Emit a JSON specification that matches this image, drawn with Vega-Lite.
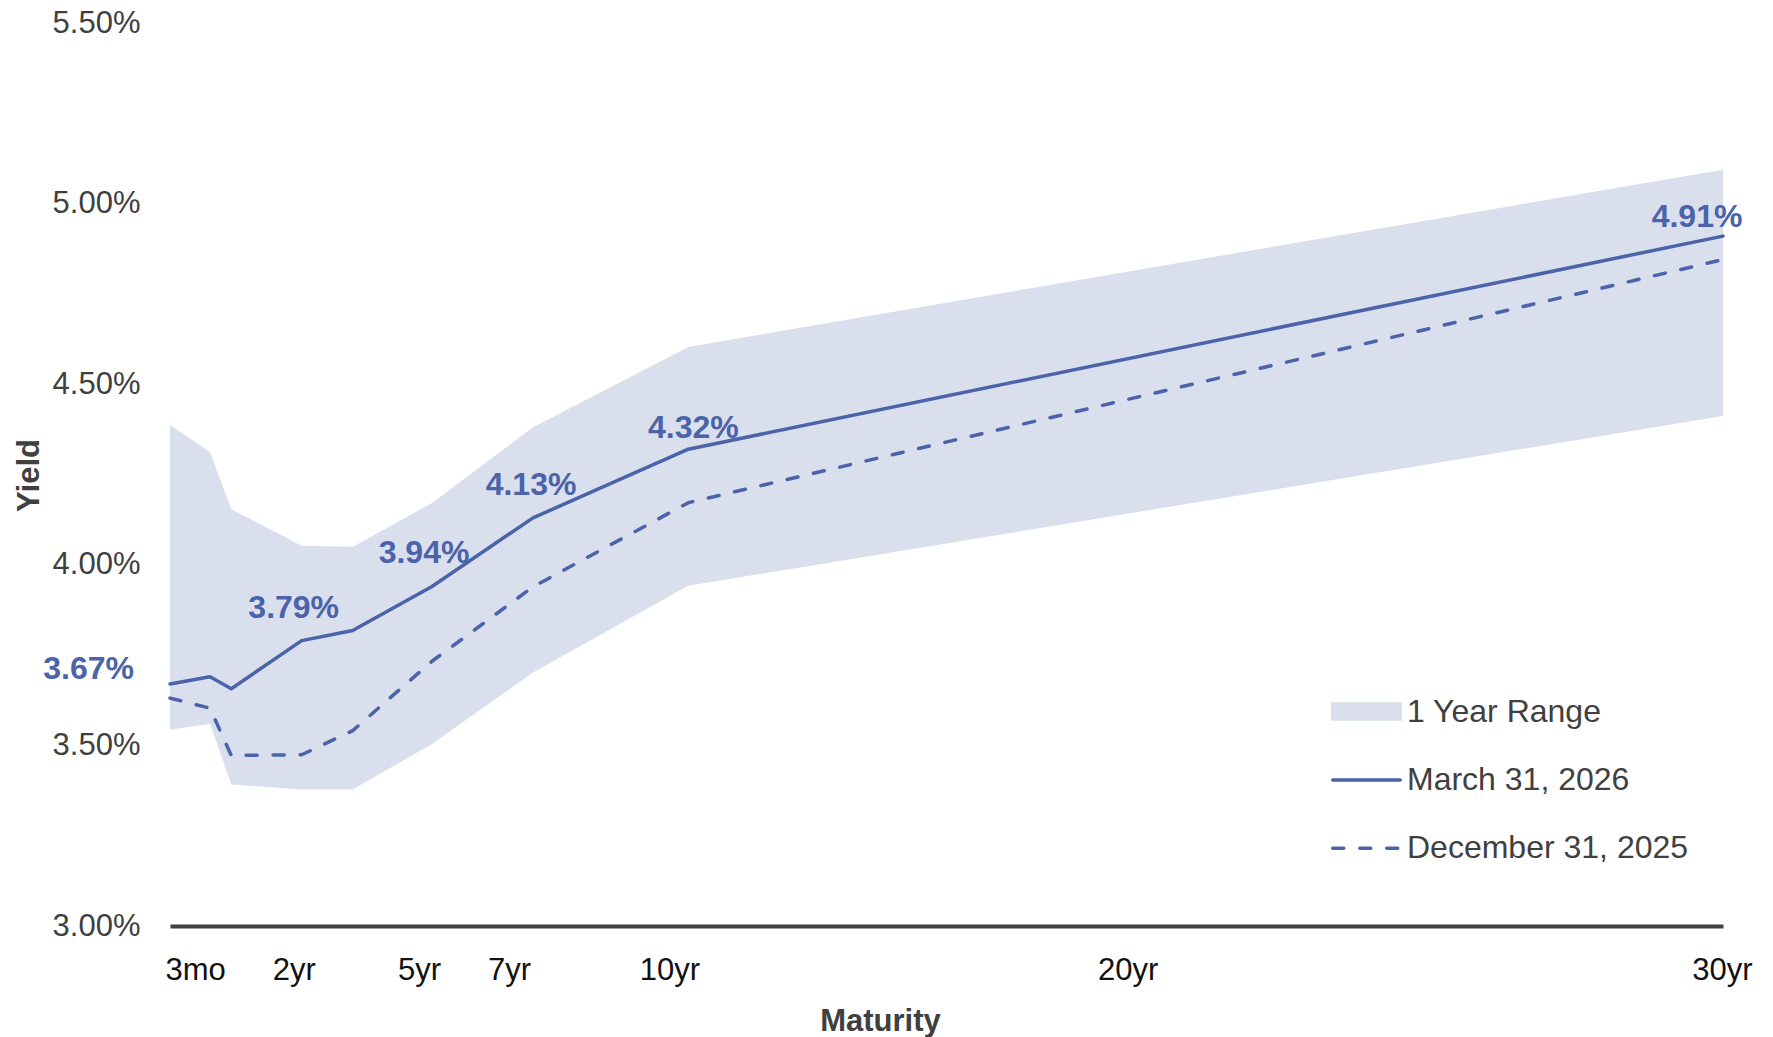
{
  "$schema": "https://vega.github.io/schema/vega-lite/v6.json",
  "width": 1553,
  "height": 903,
  "autosize": {"type": "none"},
  "padding": {"left": 170, "top": 23, "right": 50, "bottom": 111},
  "background": "white",
  "config": {
    "view": {"stroke": null},
    "font": "Liberation Sans",
    "legend": {
      "title": null,
      "orient": "none",
      "legendX": 1161,
      "legendY": 653,
      "padding": 0,
      "rowPadding": 16.4,
      "symbolSize": 4556,
      "symbolType": "stroke",
      "symbolStrokeWidth": 3.5,
      "labelFont": "Liberation Sans",
      "labelFontSize": 32,
      "labelColor": "#404040",
      "labelOffset": 5,
      "labelLimit": 0
    }
  },
  "data": {
    "values": [
      {"maturity": 0.25, "low": 0.03543, "high": 0.04387, "mar": 0.0367, "dec": 0.03631},
      {"maturity": 0.5, "low": 0.0356, "high": 0.04312, "mar": 0.0369, "dec": 0.03603},
      {"maturity": 1, "low": 0.03392, "high": 0.04154, "mar": 0.03657, "dec": 0.03472},
      {"maturity": 2, "low": 0.03378, "high": 0.04053, "mar": 0.0379, "dec": 0.03474},
      {"maturity": 3, "low": 0.03378, "high": 0.0405, "mar": 0.03818, "dec": 0.03541},
      {"maturity": 5, "low": 0.03504, "high": 0.04171, "mar": 0.0394, "dec": 0.03733},
      {"maturity": 7, "low": 0.03702, "high": 0.04381, "mar": 0.0413, "dec": 0.03939},
      {"maturity": 10, "low": 0.03942, "high": 0.04603, "mar": 0.0432, "dec": 0.04172},
      {"maturity": 30, "low": 0.04412, "high": 0.05094, "mar": 0.0491, "dec": 0.04845}
    ]
  },
  "encoding": {
    "x": {
      "field": "maturity",
      "type": "quantitative",
      "scale": {
        "domain": [0.25, 0.5, 1, 2, 3, 5, 7, 10, 30],
        "range": [0, 40, 61.3, 131.7, 182.7, 262, 363, 518.3, 1553],
        "zero": false,
        "nice": false
      },
      "axis": {
        "title": "Maturity",
        "titleFont": "Liberation Sans",
        "titleFontSize": 31,
        "titleFontWeight": "bold",
        "titleColor": "#404040",
        "titleX": 710,
        "titleY": 104,
        "titleAlign": "center",
        "titleBaseline": "alphabetic",
        "values": [0.25, 2, 5, 7, 10, 20, 30],
        "labelExpr": "datum.value == 0.25 ? '3mo' : datum.value + 'yr'",
        "labelFont": "Liberation Sans",
        "labelFontSize": 31,
        "labelColor": "#111111",
        "labelBaseline": "alphabetic",
        "labelPadding": 53,
        "labelAlign": {"condition": {"test": "datum.value == 0.25", "value": "left"}, "value": "center"},
        "labelOffset": {
          "condition": [
            {"test": "datum.value == 0.25", "value": -5},
            {"test": "datum.value == 2", "value": -8},
            {"test": "datum.value == 5", "value": -13},
            {"test": "datum.value == 7", "value": -24},
            {"test": "datum.value == 10", "value": -19},
            {"test": "datum.value == 20", "value": -78}
          ],
          "value": -1
        },
        "labelFlush": false,
        "labelOverlap": false,
        "ticks": false,
        "tickSize": 0,
        "grid": false,
        "domain": true,
        "domainColor": "#404040",
        "domainWidth": 4
      }
    }
  },
  "layer": [
    {
      "mark": {"type": "area", "opacity": 1},
      "encoding": {
        "y": {
          "field": "low",
          "type": "quantitative",
          "scale": {"domain": [0.03, 0.055], "zero": false, "nice": false},
          "axis": {
            "title": "Yield",
            "titleFont": "Liberation Sans",
            "titleFontSize": 31,
            "titleFontWeight": "bold",
            "titleColor": "#404040",
            "titleAngle": 270,
            "titleX": -132,
            "titleY": 452,
            "titleAlign": "center",
            "titleBaseline": "alphabetic",
            "values": [0.03, 0.035, 0.04, 0.045, 0.05, 0.055],
            "format": ".2%",
            "labelFont": "Liberation Sans",
            "labelFontSize": 31,
            "labelColor": "#404040",
            "labelPadding": 30,
            "labelBaseline": "middle",
            "ticks": false,
            "tickSize": 0,
            "grid": false,
            "domain": false
          }
        },
        "y2": {"field": "high"},
        "color": {
          "datum": "1 Year Range",
          "type": "nominal",
          "scale": {
            "domain": ["1 Year Range", "March 31, 2026", "December 31, 2025"],
            "range": ["#DADFED", "#4A63A9", "#4A63A9"]
          },
          "legend": {
            "encode": {
              "symbols": {
                "update": {
                  "shape": {"signal": "datum.value === '1 Year Range' ? 'M-1,-0.22H1V0.22H-1Z' : 'stroke'"},
                  "fill": {"signal": "datum.value === '1 Year Range' ? '#DADFED' : 'transparent'"},
                  "stroke": {"signal": "datum.value === '1 Year Range' ? 'transparent' : '#4A63A9'"},
                  "strokeWidth": {"value": 3.5},
                  "strokeDash": {"signal": "datum.value === 'December 31, 2025' ? [11, 16] : []"},
                  "strokeCap": {"value": "round"},
                  "size": {"value": 4556},
                  "opacity": {"value": 1}
                }
              }
            }
          }
        }
      }
    },
    {
      "mark": {"type": "line", "strokeWidth": 3.5, "strokeDash": [11, 16], "strokeCap": "round", "strokeJoin": "round"},
      "encoding": {
        "y": {"field": "dec", "type": "quantitative"},
        "color": {
          "datum": "December 31, 2025",
          "type": "nominal",
          "legend": {
            "encode": {
              "symbols": {
                "update": {
                  "shape": {"signal": "datum.value === '1 Year Range' ? 'M-1,-0.22H1V0.22H-1Z' : 'stroke'"},
                  "fill": {"signal": "datum.value === '1 Year Range' ? '#DADFED' : 'transparent'"},
                  "stroke": {"signal": "datum.value === '1 Year Range' ? 'transparent' : '#4A63A9'"},
                  "strokeWidth": {"value": 3.5},
                  "strokeDash": {"signal": "datum.value === 'December 31, 2025' ? [11, 16] : []"},
                  "strokeCap": {"value": "round"},
                  "size": {"value": 4556},
                  "opacity": {"value": 1}
                }
              }
            }
          }
        }
      }
    },
    {
      "mark": {"type": "line", "strokeWidth": 3.5, "strokeCap": "round", "strokeJoin": "round"},
      "encoding": {
        "y": {"field": "mar", "type": "quantitative"},
        "color": {
          "datum": "March 31, 2026",
          "type": "nominal",
          "legend": {
            "encode": {
              "symbols": {
                "update": {
                  "shape": {"signal": "datum.value === '1 Year Range' ? 'M-1,-0.22H1V0.22H-1Z' : 'stroke'"},
                  "fill": {"signal": "datum.value === '1 Year Range' ? '#DADFED' : 'transparent'"},
                  "stroke": {"signal": "datum.value === '1 Year Range' ? 'transparent' : '#4A63A9'"},
                  "strokeWidth": {"value": 3.5},
                  "strokeDash": {"signal": "datum.value === 'December 31, 2025' ? [11, 16] : []"},
                  "strokeCap": {"value": "round"},
                  "size": {"value": 4556},
                  "opacity": {"value": 1}
                }
              }
            }
          }
        }
      }
    },
    {
      "transform": [{"filter": "datum.maturity == 0.25"}],
      "mark": {"type": "text", "font": "Liberation Sans", "fontSize": 32, "fontWeight": "bold", "color": "#4A63A9", "align": "right", "baseline": "middle", "dx": -36, "dy": -15},
      "encoding": {
        "y": {"field": "mar", "type": "quantitative"},
        "text": {"field": "mar", "type": "quantitative", "format": ".2%"}
      }
    },
    {
      "transform": [{"filter": "datum.maturity == 2 || datum.maturity == 5"}],
      "mark": {"type": "text", "font": "Liberation Sans", "fontSize": 32, "fontWeight": "bold", "color": "#4A63A9", "align": "center", "baseline": "middle", "dx": -8, "dy": -33},
      "encoding": {
        "y": {"field": "mar", "type": "quantitative"},
        "text": {"field": "mar", "type": "quantitative", "format": ".2%"}
      }
    },
    {
      "transform": [{"filter": "datum.maturity == 7"}],
      "mark": {"type": "text", "font": "Liberation Sans", "fontSize": 32, "fontWeight": "bold", "color": "#4A63A9", "align": "center", "baseline": "middle", "dx": -2, "dy": -33},
      "encoding": {
        "y": {"field": "mar", "type": "quantitative"},
        "text": {"field": "mar", "type": "quantitative", "format": ".2%"}
      }
    },
    {
      "transform": [{"filter": "datum.maturity == 10"}],
      "mark": {"type": "text", "font": "Liberation Sans", "fontSize": 32, "fontWeight": "bold", "color": "#4A63A9", "align": "center", "baseline": "middle", "dx": 5, "dy": -21},
      "encoding": {
        "y": {"field": "mar", "type": "quantitative"},
        "text": {"field": "mar", "type": "quantitative", "format": ".2%"}
      }
    },
    {
      "transform": [{"filter": "datum.maturity == 30"}],
      "mark": {"type": "text", "font": "Liberation Sans", "fontSize": 32, "fontWeight": "bold", "color": "#4A63A9", "align": "center", "baseline": "middle", "dx": -26, "dy": -19},
      "encoding": {
        "y": {"field": "mar", "type": "quantitative"},
        "text": {"field": "mar", "type": "quantitative", "format": ".2%"}
      }
    }
  ]
}
